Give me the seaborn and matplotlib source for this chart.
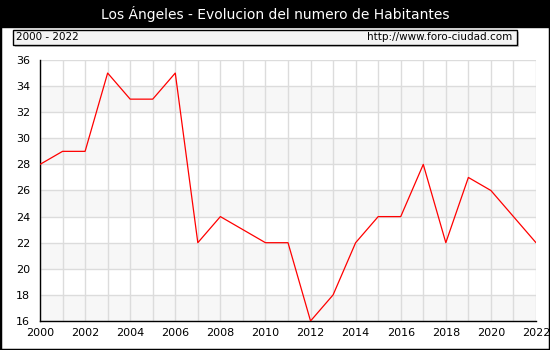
import matplotlib
matplotlib.use("Agg")
import matplotlib.pyplot as plt
from matplotlib.patches import Rectangle
from matplotlib.ticker import MultipleLocator
import seaborn as sns
import pandas as pd

years = list(range(2000, 2023))
habitantes = [28, 29, 29, 35, 33, 33, 35, 22, 24, 23, 22, 22, 16, 18, 22, 24, 24, 28, 22, 27, 26, 24, 22]
titulo = "Los Ángeles - Evolucion del numero de Habitantes"
rango = "2000 - 2022"
fuente = "http://www.foro-ciudad.com"

df = pd.DataFrame({"year": years, "hab": habitantes})

sns.set_style("white")
plt.rcParams["font.family"] = ["DejaVu Sans"]

W, H = 550, 350
fig = plt.figure(figsize=(W / 100, H / 100), dpi=100)
fig.patch.set_facecolor("white")

# outer frame and title band
fig.patches.append(Rectangle((0, 0), 1, 1, transform=fig.transFigure, fill=False,
                             edgecolor="black", linewidth=2.5, zorder=0))
fig.patches.append(Rectangle((0, 1 - 27 / H), 1, 27 / H, transform=fig.transFigure,
                             facecolor="black", edgecolor="black", zorder=1))
fig.text(0.5, 1 - 14 / H, titulo, color="white", ha="center", va="center", fontsize=10)

# info box with shadow
bx0, bx1, by0, by1 = 13 / W, 517 / W, 1 - 45 / H, 1 - 30 / H
fig.patches.append(Rectangle((bx0 + 2 / W, by0 - 2 / H), bx1 - bx0, by1 - by0,
                             transform=fig.transFigure, facecolor="#c8c8c8",
                             edgecolor="none", zorder=1))
fig.patches.append(Rectangle((bx0, by0), bx1 - bx0, by1 - by0, transform=fig.transFigure,
                             facecolor="#f4f4f4", edgecolor="black", linewidth=1, zorder=2))
fig.text(bx0 + 3 / W, (by0 + by1) / 2, rango, ha="left", va="center", fontsize=7.5,
         color="black", zorder=3)
fig.text(bx1 - 5 / W, (by0 + by1) / 2, fuente, ha="right", va="center", fontsize=7.5,
         color="black", zorder=3)

ax = fig.add_axes([40 / W, 1 - 321 / H, (536 - 40) / W, (321 - 60) / H])
ax.set_facecolor("white")

# alternating horizontal bands
for y0 in range(16, 36, 4):
    ax.axhspan(y0, y0 + 2, color="#f7f7f7", zorder=0, linewidth=0)

sns.lineplot(data=df, x="year", y="hab", ax=ax, color="red", linewidth=0.9, zorder=3)

ax.set_xlim(2000, 2022)
ax.set_ylim(16, 36)
ax.xaxis.set_major_locator(MultipleLocator(2))
ax.xaxis.set_minor_locator(MultipleLocator(1))
ax.yaxis.set_major_locator(MultipleLocator(2))
ax.yaxis.set_minor_locator(MultipleLocator(1))
ax.grid(True, which="major", axis="y", color="#dcdcdc", linewidth=1, zorder=1)
ax.grid(True, which="both", axis="x", color="#dcdcdc", linewidth=1, zorder=1)
ax.set_axisbelow(True)
ax.set_xlabel("")
ax.set_ylabel("")

for s in ["top", "right"]:
    ax.spines[s].set_visible(False)
for s in ["left", "bottom"]:
    ax.spines[s].set_color("black")
    ax.spines[s].set_linewidth(1)

ax.tick_params(axis="both", which="both", direction="in", color="black", width=1,
               labelsize=8, labelcolor="black", length=5)
ax.tick_params(axis="x", which="major", pad=5)
ax.tick_params(axis="y", which="major", pad=7)
for lbl in ax.get_yticklabels():
    lbl.set_verticalalignment("center_baseline")

fig.savefig("out.png", dpi=100, facecolor=fig.get_facecolor())
